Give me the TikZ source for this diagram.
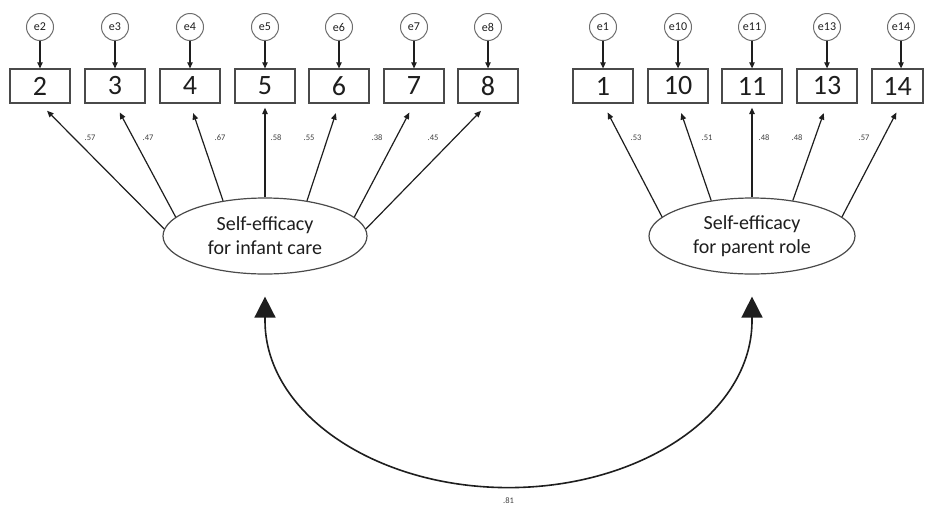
\documentclass[tikz,border=0pt]{standalone}
\usepackage{fontspec}
\setmainfont{Carlito}
\usetikzlibrary{shapes.geometric,arrows.meta,calc}
\definecolor{edge}{HTML}{4A4A4A}
\definecolor{ink}{HTML}{1E1E1E}
\begin{document}
\begin{tikzpicture}[x=1pt,y=-1pt,
  obsbox/.style={rectangle,draw=edge,line width=1.3pt,minimum width=60pt,minimum height=34pt,inner sep=0pt,font=\fontsize{28}{30}\selectfont,text=ink},
  errc/.style={circle,draw=edge!80,line width=1pt,minimum size=27pt,inner sep=0pt,font=\fontsize{12}{13}\selectfont,text=ink},
  latent/.style={ellipse,draw=edge,line width=1.2pt,inner sep=0pt,minimum height=76pt,align=center,font=\fontsize{20}{24}\selectfont,text=ink},
  errarrow/.style={draw=ink,line width=1.1pt,-{Triangle[length=6pt,width=5.5pt]}},
  loadarrow/.style={draw=ink,line width=1.2pt,-{Triangle[length=6.5pt,width=5.5pt]},shorten >=10pt},
  vloadarrow/.style={loadarrow,shorten >=4pt},
  lbl/.style={font=\fontsize{8.5}{9}\selectfont,text=ink!85,inner sep=0pt},
  covarrow/.style={draw=ink,line width=1.6pt,{Triangle[length=21pt,width=21pt]}-{Triangle[length=21pt,width=21pt]}}
]
\useasboundingbox (0,0) rectangle (925,507);

% left indicators
\foreach \n/\x in {2/40,3/115,4/190,5/265,6/339,7/414,8/488}{
  \node[obsbox] (b\n) at (\x,86) {\n};
  \node[errc] (e\n) at (\x,27) {e\n};
  \draw[errarrow] (e\n) -- (b\n);
}
% right indicators
\foreach \n/\x in {1/603,10/678,11/752,13/827}{
  \node[obsbox] (b\n) at (\x,86) {\n};
  \node[errc] (e\n) at (\x,27) {e\n};
  \draw[errarrow] (e\n) -- (b\n);
}
\node[obsbox,minimum width=51pt] (b14) at (897.5,86) {14};
\node[errc] (e14) at (901,27) {e14};
\draw[errarrow] (e14) -- (e14 |- b14.north);

% latent factors
\node[latent,minimum width=204pt] (L1) at (265,236) {Self-efficacy\\for infant care};
\node[latent,minimum width=206pt] (L2) at (752,236) {Self-efficacy\\for parent role};

% loadings left
\draw[loadarrow] (L1.176) -- (b2.south);
\draw[loadarrow] (L1.168) -- (b3.south);
\draw[loadarrow] (L1.140) -- (b4.south);
\draw[vloadarrow] (L1.90) -- (b5.south);
\draw[loadarrow] (L1.40) -- (b6.south);
\draw[loadarrow] (L1.12) -- (b7.south);
\draw[loadarrow] (L1.4) -- (b8.south);
% loadings right
\draw[loadarrow] (L2.168) -- (b1.south);
\draw[loadarrow] (L2.139) -- (b10.south);
\draw[vloadarrow] (L2.90) -- (b11.south);
\draw[loadarrow] (L2.41) -- (b13.south);
\draw[loadarrow] (L2.12) -- (b14.south -| 901,0);

% loading labels
\node[lbl] (l2) at (90,138) {.57};
\node[lbl] (l3) at (148,138) {.47};
\node[lbl] (l4) at (220,138) {.67};
\node[lbl] (l5) at (276,138) {.58};
\node[lbl] (l6) at (309,138) {.55};
\node[lbl] (l7) at (377,138) {.38};
\node[lbl] (l8) at (433,138) {.45};
\node[lbl] (l1) at (636,138) {.53};
\node[lbl] (l10) at (707,138) {.51};
\node[lbl] (l11) at (764,138) {.48};
\node[lbl] (l13) at (797,138) {.48};
\node[lbl] (l14) at (864,138) {.57};

% covariance
\coordinate (cl) at ($(L1.south)+(0,22)$);
\coordinate (cr) at ($(L2.south)+(0,22)$);
\coordinate (cb) at ($(cl)!0.5!(cr)+(0,191)$);
\draw[covarrow] (cl) -- ++(0,24) .. controls +(0,92) and +(-134,0) .. (cb)
  .. controls +(134,0) and +(0,92) .. ($(cr)+(0,24)$) -- (cr);
\node[lbl] (lc) at ($(cb)+(0,13)$) {.81};
\end{tikzpicture}
\end{document}
